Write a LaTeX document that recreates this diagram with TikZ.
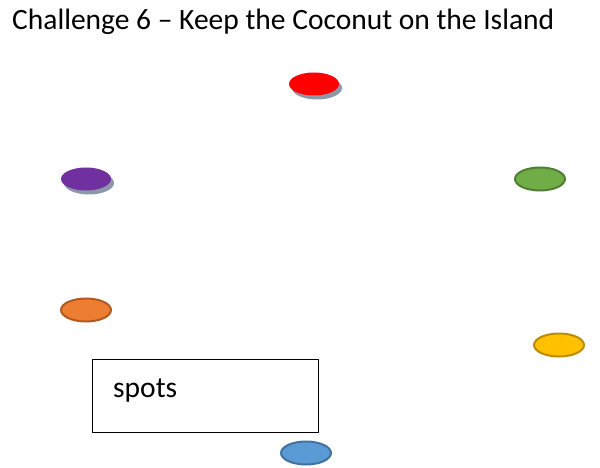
\documentclass[tikz,border=0pt]{standalone}
\usepackage{fontspec}
\setmainfont{Carlito}
\usepackage{xcolor}
\usetikzlibrary{shapes.geometric,shadows}
\definecolor{spotRed}{RGB}{255,0,0}
\definecolor{spotPurple}{RGB}{112,48,160}
\definecolor{spotGreen}{RGB}{112,173,71}
\definecolor{spotGreenLine}{RGB}{80,126,50}
\definecolor{spotOrange}{RGB}{237,125,49}
\definecolor{spotOrangeLine}{RGB}{174,90,33}
\definecolor{spotYellow}{RGB}{255,192,0}
\definecolor{spotYellowLine}{RGB}{188,140,0}
\definecolor{spotBlue}{RGB}{91,155,213}
\definecolor{spotBlueLine}{RGB}{65,113,156}
\definecolor{shadowGray}{RGB}{140,152,170}
\tikzset{
  spot/.style={ellipse,minimum width=50pt,minimum height=23pt,inner sep=0pt,line width=2pt},
  shadowed/.style={drop shadow={shadow xshift=3pt,shadow yshift=-4pt,fill=shadowGray,opacity=1}}
}

\begin{document}
\begin{tikzpicture}[x=1pt,y=-1pt]
\useasboundingbox[fill=white] (0,0) rectangle (600,468);
\node[anchor=base west,inner sep=0pt,font=\fontsize{29.5}{35}\selectfont] (title) at (12,30) {Challenge 6 -- Keep the Coconut on the Island};
% the spots
\node[spot,fill=spotRed,shadowed] (red) at (314,84) {};
\node[spot,fill=spotPurple,shadowed] (purple) at (86,179) {};
\node[spot,fill=spotGreen,draw=spotGreenLine] (green) at (540,179) {};
\node[spot,fill=spotOrange,draw=spotOrangeLine] (orange) at (86,310) {};
\node[spot,fill=spotYellow,draw=spotYellowLine] (yellow) at (559,345) {};
\node[spot,fill=spotBlue,draw=spotBlueLine] (blue) at (306,453) {};
% label box
\draw[line width=1pt] (92,359) rectangle (318,432);
\node[anchor=base west,inner sep=0pt,font=\fontsize{29.5}{35}\selectfont] (spots) at (113,397) {spots};
\end{tikzpicture}
\end{document}
